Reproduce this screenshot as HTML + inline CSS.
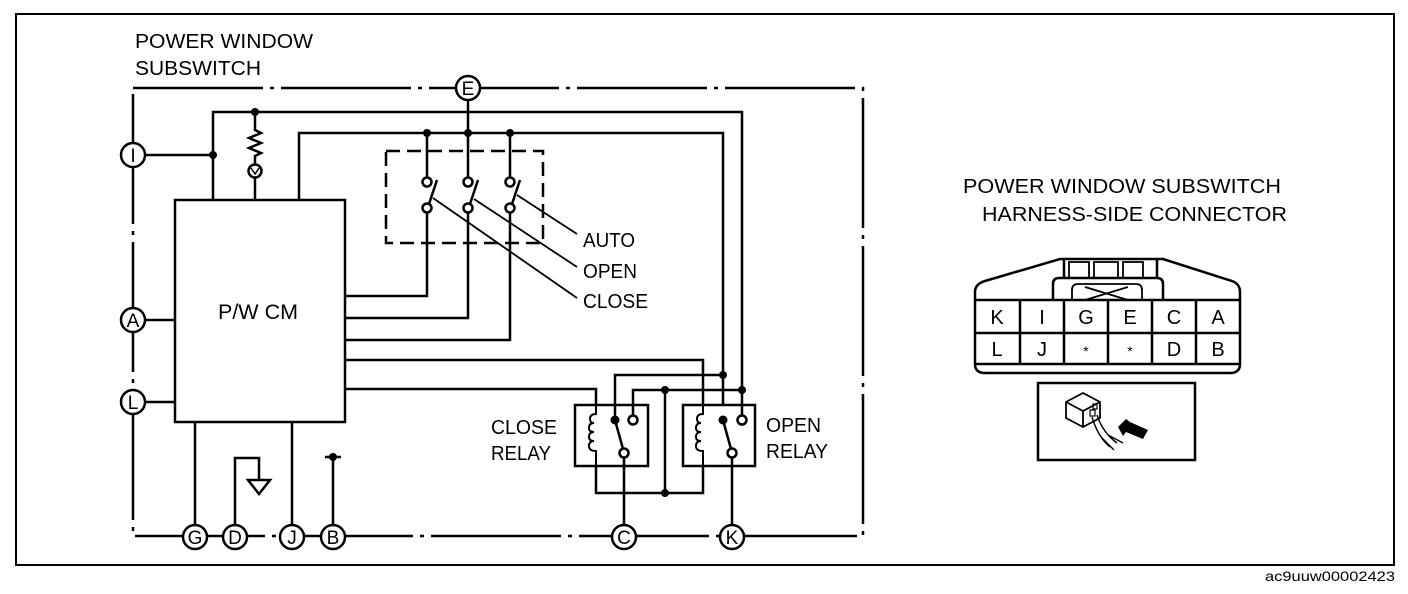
<!DOCTYPE html>
<html><head><meta charset="utf-8"><style>
html,body{margin:0;padding:0;background:#fff;}
svg{display:block;}
text{font-family:"Liberation Sans",Arial,sans-serif;fill:#000;}
</style></head><body>
<svg width="1408" height="594" viewBox="0 0 1408 594" xmlns="http://www.w3.org/2000/svg">
<g fill="none" stroke="#000" stroke-width="2.5">
<rect x="16" y="14" width="1378" height="551" stroke-width="2"/>
<path d="M133 88 H863 V536 H133 Z" stroke-dasharray="130 7 4 7"/>
<path d="M145 155 H213"/>
<path d="M213 200 V112 H742 V386 V404"/>
<path d="M255 112 V130 l6 3 l-12 5 l12 5 l-12 5 l12 5 l-6 3 V164"/>
<circle cx="255" cy="171" r="6.5"/>
<path d="M251 168 l4 6 l4 -6" stroke-width="1.5"/>
<path d="M255 177 V200"/>
<path d="M299 200 V133 H723 V404"/>
<path d="M468 100 V133"/>
<rect x="386" y="151" width="157" height="92" stroke-dasharray="14 7"/>
<path d="M427 133 V177 M468 133 V177 M510 133 V177" />
<circle cx="427" cy="182" r="4.5"/><circle cx="468" cy="182" r="4.5"/><circle cx="510" cy="182" r="4.5"/>
<circle cx="427" cy="208" r="4.5"/><circle cx="468" cy="208" r="4.5"/><circle cx="510" cy="208" r="4.5"/>
<path d="M429 204 L437 180 M470 204 L478 180 M512 204 L520 180" />
<path d="M427 212 V296 H345 M468 212 V318 H345 M510 212 V340 H345"/>
<path d="M517 195 L577 234 M474 199 L577 267 M433 198 L577 298" stroke-width="1.8"/>
<rect x="175" y="200" width="170" height="222"/>
<path d="M145 320 H175 M145 402 H175"/>
<path d="M195 422 V525 M292 422 V525"/>
<path d="M235 525 V458 H259 V480"/>
<path d="M248 480 H270 L259 494 Z"/>
<path d="M333 525 V457 M325 457 H341"/>
<path d="M345 360 H703 V404 M345 389 H596 V404"/>
<path d="M615 420 V375 H723 M633 416 V390 H742"/>
<path d="M665 390 V493 M596 466 V493 H703 V466"/>
<rect x="575" y="405" width="73" height="61"/>
<rect x="683" y="405" width="72" height="61"/>
<path d="M596 405 V414 q-6 0 -6 5 q0 4 4 4 q-5 0 -5 5 q0 4 5 4 q-5 0 -5 5 q0 4 5 4 q-5 0 -5 5 q0 5 7 5 V466" stroke-width="2"/>
<path d="M703 405 V414 q-6 0 -6 5 q0 4 4 4 q-5 0 -5 5 q0 4 5 4 q-5 0 -5 5 q0 4 5 4 q-5 0 -5 5 q0 5 7 5 V466" stroke-width="2"/>
<circle cx="633" cy="420" r="4.5"/><circle cx="742" cy="420" r="4.5"/>
<circle cx="624" cy="453" r="4.5"/><circle cx="732" cy="453" r="4.5"/>
<path d="M742 404 V416"/>
<path d="M615 420 L623 449 M723 420 L731 449"/>
<path d="M624 457 V525 M732 457 V525"/>
<g fill="#fff">
<circle cx="468" cy="88" r="12"/>
<circle cx="133" cy="155" r="12"/>
<circle cx="133" cy="320" r="12"/>
<circle cx="133" cy="402" r="12"/>
<circle cx="195" cy="537" r="12"/>
<circle cx="235" cy="537" r="12"/>
<circle cx="292" cy="537" r="12"/>
<circle cx="333" cy="537" r="12"/>
<circle cx="624" cy="537" r="12"/>
<circle cx="732" cy="537" r="12"/>
</g>
<path d="M975 364 V292 Q975 284 985 281 L1060 259 H1163 L1232 281 Q1240 284 1240 292 V364 Q1240 373 1230 373 H985 Q975 373 975 364 Z"/>
<path d="M1064 259 V278 M1157 259 V278"/>
<rect x="1069" y="262" width="20" height="16" stroke-width="1.8"/>
<rect x="1094" y="262" width="24" height="16" stroke-width="1.8"/>
<rect x="1123" y="262" width="20" height="16" stroke-width="1.8"/>
<path d="M1053 300 V284 Q1053 278 1059 278 H1157 Q1163 278 1163 284 V300"/>
<path d="M1072 300 V290 Q1072 284 1078 284 H1136 Q1142 284 1142 290 V300" stroke-width="1.8"/>
<path d="M1085 287 L1128 300 M1085 300 L1128 287" stroke-width="1.8"/>
<path d="M975 300 H1240 M975 333 H1240 M975 364 H1240"/>
<path d="M1020 300 V364 M1064 300 V364 M1108 300 V364 M1152 300 V364 M1196 300 V364"/>
<rect x="1038" y="383" width="157" height="77"/>
<path d="M1066 402 L1083 393 L1100 402 L1100 418 L1083 427 L1066 418 Z" stroke-width="1.8"/>
<path d="M1066 402 L1083 411 L1100 402 M1083 411 V427" stroke-width="1.8"/>
<rect x="1090" y="410" width="5" height="6" stroke-width="1.2"/>
<rect x="1093" y="404" width="4" height="5" stroke-width="1.2"/>
<path d="M1092 417 q6 20 18 30 M1097 415 q6 18 20 28 M1108 435 l15 8 M1102 438 l12 12" stroke-width="1.4"/>
</g>
<g fill="#000">
<circle cx="213" cy="155" r="4"/><circle cx="255" cy="112" r="4"/>
<circle cx="427" cy="133" r="4"/><circle cx="468" cy="133" r="4"/><circle cx="510" cy="133" r="4"/>
<circle cx="723" cy="375" r="4"/><circle cx="742" cy="390" r="4"/>
<circle cx="665" cy="390" r="4"/><circle cx="665" cy="493" r="4"/>
<circle cx="333" cy="457" r="4"/>
<circle cx="615" cy="420" r="4.5"/><circle cx="723" cy="420" r="4.5"/>
<path d="M1118 427 l8 -8 l4 3 l18 8 l-5 9 l-17 -7 l-3 4 z"/>
</g>
<g font-size="19" text-anchor="middle">
<text x="468" y="95">E</text>
<text x="133" y="162">I</text>
<text x="133" y="327">A</text>
<text x="133" y="409">L</text>
<text x="195" y="544">G</text>
<text x="235" y="544">D</text>
<text x="292" y="544">J</text>
<text x="333" y="544">B</text>
<text x="624" y="544">C</text>
<text x="732" y="544">K</text>
</g>
<g font-size="20">
<text x="135" y="48" textLength="178" lengthAdjust="spacingAndGlyphs">POWER WINDOW</text>
<text x="135" y="75" textLength="126" lengthAdjust="spacingAndGlyphs">SUBSWITCH</text>
<text x="218" y="319" textLength="80" lengthAdjust="spacingAndGlyphs" font-size="21">P/W CM</text>
<text x="583" y="247" textLength="52" lengthAdjust="spacingAndGlyphs">AUTO</text>
<text x="583" y="278" textLength="54" lengthAdjust="spacingAndGlyphs">OPEN</text>
<text x="583" y="308" textLength="65" lengthAdjust="spacingAndGlyphs">CLOSE</text>
<text x="491" y="434" textLength="66" lengthAdjust="spacingAndGlyphs">CLOSE</text>
<text x="491" y="460" textLength="60" lengthAdjust="spacingAndGlyphs">RELAY</text>
<text x="766" y="432" textLength="55" lengthAdjust="spacingAndGlyphs">OPEN</text>
<text x="766" y="458" textLength="62" lengthAdjust="spacingAndGlyphs">RELAY</text>
<text x="963" y="193" textLength="318" lengthAdjust="spacingAndGlyphs">POWER WINDOW SUBSWITCH</text>
<text x="982" y="221" textLength="305" lengthAdjust="spacingAndGlyphs">HARNESS-SIDE CONNECTOR</text>
</g>
<g font-size="20" text-anchor="middle">
<text x="997" y="324">K</text><text x="1042" y="324">I</text><text x="1086" y="324">G</text>
<text x="1130" y="324">E</text><text x="1174" y="324">C</text><text x="1218" y="324">A</text>
<text x="997" y="356">L</text><text x="1042" y="356">J</text><text x="1086" y="356" font-size="14">*</text>
<text x="1130" y="356" font-size="14">*</text><text x="1174" y="356">D</text><text x="1218" y="356">B</text>
</g>
<text x="1265" y="581" font-size="14" textLength="130" lengthAdjust="spacingAndGlyphs">ac9uuw00002423</text>
</svg>
</body></html>
